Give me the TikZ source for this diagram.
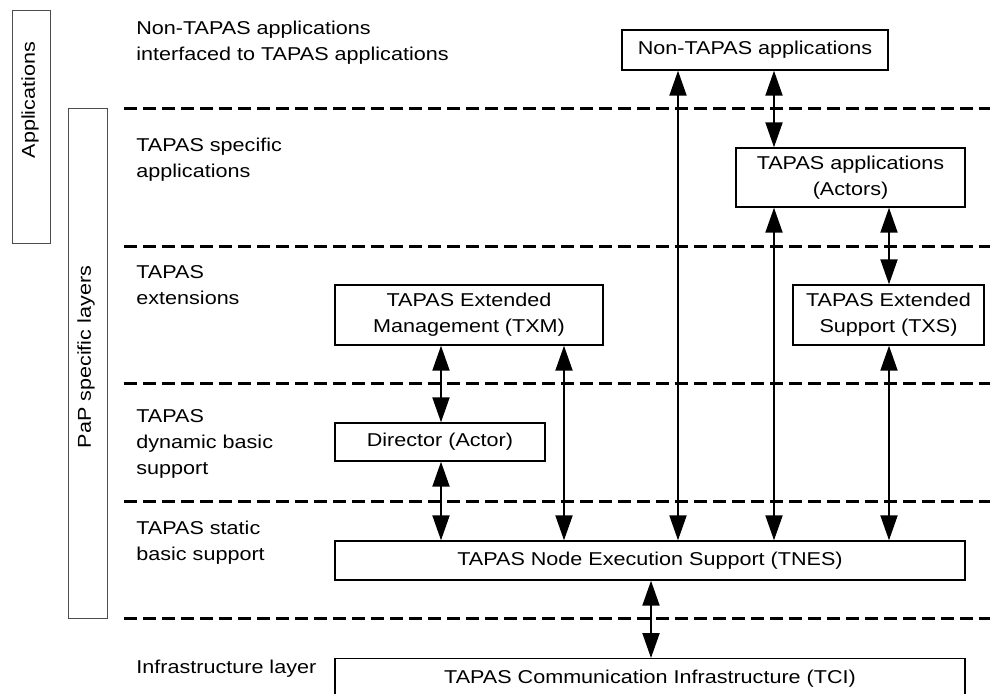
\documentclass[tikz,border=0pt]{standalone}
\usepackage{fontspec}
\setmainfont{Liberation Sans}[FakeStretch=1.16]
\usetikzlibrary{arrows.meta}

\tikzset{
  bar/.style={draw=black!70,line width=.5pt},
  box/.style={draw,line width=.7pt,align=center,inner sep=0pt},
  sep/.style={line width=1.5pt,dash pattern=on 6.25pt off 3.25pt},
  lbl/.style={anchor=base west,align=left,inner sep=0pt},
  link/.style={line width=1pt,
    {Triangle[length=12.5pt,width=8.5pt]}-{Triangle[length=12.5pt,width=8.5pt]}}
}

\begin{document}
\begin{tikzpicture}[x=.5pt,y=-.5pt,font=\fontsize{9.3}{13}\selectfont]
      \useasboundingbox (0,0) rectangle (990,693);

      % side bars
      \draw[bar] (12,10) rectangle (50,243);
      \node[rotate=90] (apps) at (30,100) {Applications};
      \draw[bar] (68,108) rectangle (107,618);
      \node[rotate=90] (pap) at (86,357) {PaP specific layers};

      % layer separators
      \foreach \y in {108,246,383,501,618}
        \draw[sep] (124,\y) -- (990,\y);

      % layer names (placed at the baseline of the last line)
      \node[lbl] (l1) at (136,60) {Non-TAPAS applications\\interfaced to TAPAS applications};
      \node[lbl] (l2) at (136,177) {TAPAS specific\\applications};
      \node[lbl] (l3) at (136,304) {TAPAS\\extensions};
      \node[lbl] (l4) at (136,474) {TAPAS\\dynamic basic\\support};
      \node[lbl] (l5) at (136,560) {TAPAS static\\basic support};
      \node[lbl] (l6) at (136,673) {Infrastructure layer};

      % blocks
      \node[box,minimum width=133pt,minimum height=20pt] (nta) at (755,50) {Non-TAPAS applications};
      \node[box,minimum width=114.5pt,minimum height=29.5pt] (tap) at (850.5,177.5) {TAPAS applications\\(Actors)};
      \node[box,minimum width=134pt,minimum height=30pt] (txm) at (469,315) {TAPAS Extended\\Management (TXM)};
      \node[box,minimum width=95.5pt,minimum height=30pt] (txs) at (888.5,315) {TAPAS Extended\\Support (TXS)};
      \node[box,minimum width=105pt,minimum height=19pt] (dir) at (440,442) {Director (Actor)};
      \node[box,minimum width=315pt,minimum height=19.5pt] (tnes) at (650,560.5) {TAPAS Node Execution Support (TNES)};
      \node[box,minimum width=315pt,minimum height=20pt,anchor=north] (tci) at (650,658) {TAPAS Communication Infrastructure (TCI)};

      \foreach \x/\from/\to in {678/nta/tnes,774/nta/tap,774/tap/tnes,889/tap/txs,889/txs/tnes,
                               441/txm/dir,441/dir/tnes,564/txm/tnes,651/tnes/tci}
        \draw[link] (\from.south -| \x,0) -- (\to.north -| \x,0);
    \end{tikzpicture}
\end{document}
